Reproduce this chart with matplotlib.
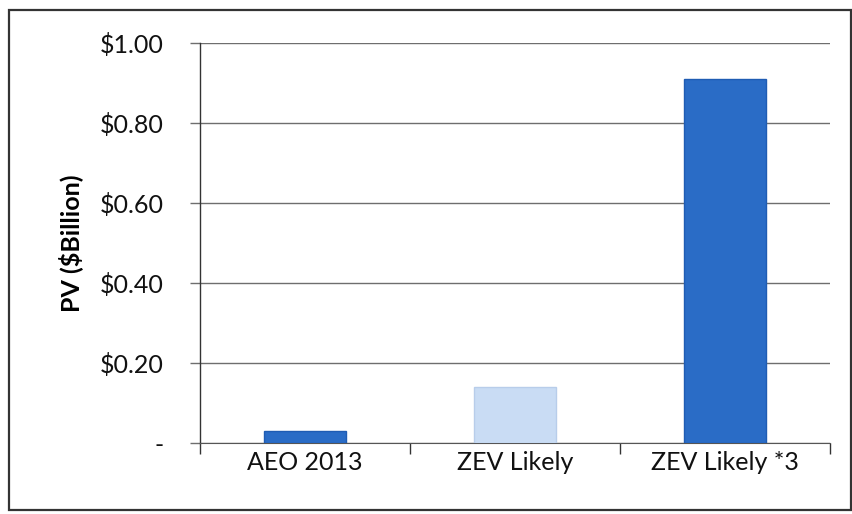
import matplotlib
matplotlib.use("Agg")
import matplotlib.pyplot as plt
from matplotlib.patches import Rectangle
from matplotlib.ticker import FuncFormatter
import numpy as np

categories = ["AEO 2013", "ZEV Likely", "ZEV Likely *3"]
pv_billion = [0.03, 0.14, 0.91]
bar_colors = ["#2a6cc6", "#c9dcf4", "#2a6cc6"]
edge_colors = ["#1f5cb3", "#b8cdea", "#1f5cb3"]
y_ticks = [0.0, 0.2, 0.4, 0.6, 0.8, 1.0]

plt.rcParams['font.family'] = ['Lato', 'DejaVu Sans']

fig = plt.figure(figsize=(8.53, 5.14), dpi=100)
ax = fig.add_axes([0.2345, 0.138, 0.7385, 0.778])

xs = np.arange(len(categories))
ax.bar(xs, pv_billion, width=0.39, color=bar_colors, edgecolor=edge_colors,
       linewidth=1.0, zorder=3)

ax.set_xlim(-0.5, len(categories) - 0.5)
ax.set_ylim(0, 1.0)
ax.set_yticks(y_ticks)
ax.yaxis.set_major_formatter(FuncFormatter(lambda v, _: '-' if v == 0 else f'${v:.2f}'))
ax.grid(axis='y', color='#6e6e6e', linewidth=1.0, zorder=1)

# category labels sit between the boundary ticks
ax.set_xticks(xs)
ax.set_xticklabels(categories)
ax.set_xticks(np.arange(len(categories) + 1) - 0.5, minor=True)
ax.tick_params(axis='x', which='major', length=0, pad=6, labelsize=18, colors='#111')
ax.tick_params(axis='x', which='minor', length=8, width=1.0, color='#333')
ax.tick_params(axis='y', length=7, width=1.0, color='#6e6e6e', pad=19,
               labelsize=18, labelcolor='#111')

for side in ['top', 'right']:
    ax.spines[side].set_visible(False)
ax.spines['left'].set_color('#333')
ax.spines['bottom'].set_color('#555')
ax.spines['left'].set_linewidth(1.0)

ax.set_ylabel('PV ($Billion)', fontsize=18, fontweight='bold', labelpad=12, color='#000')

# frame around the whole chart
fig.patches.append(Rectangle((9 / 853, 4 / 514), 842 / 853, 500 / 514,
                             transform=fig.transFigure, fill=False,
                             edgecolor='#333', linewidth=1.6))

fig.savefig('out.png', dpi=100)
